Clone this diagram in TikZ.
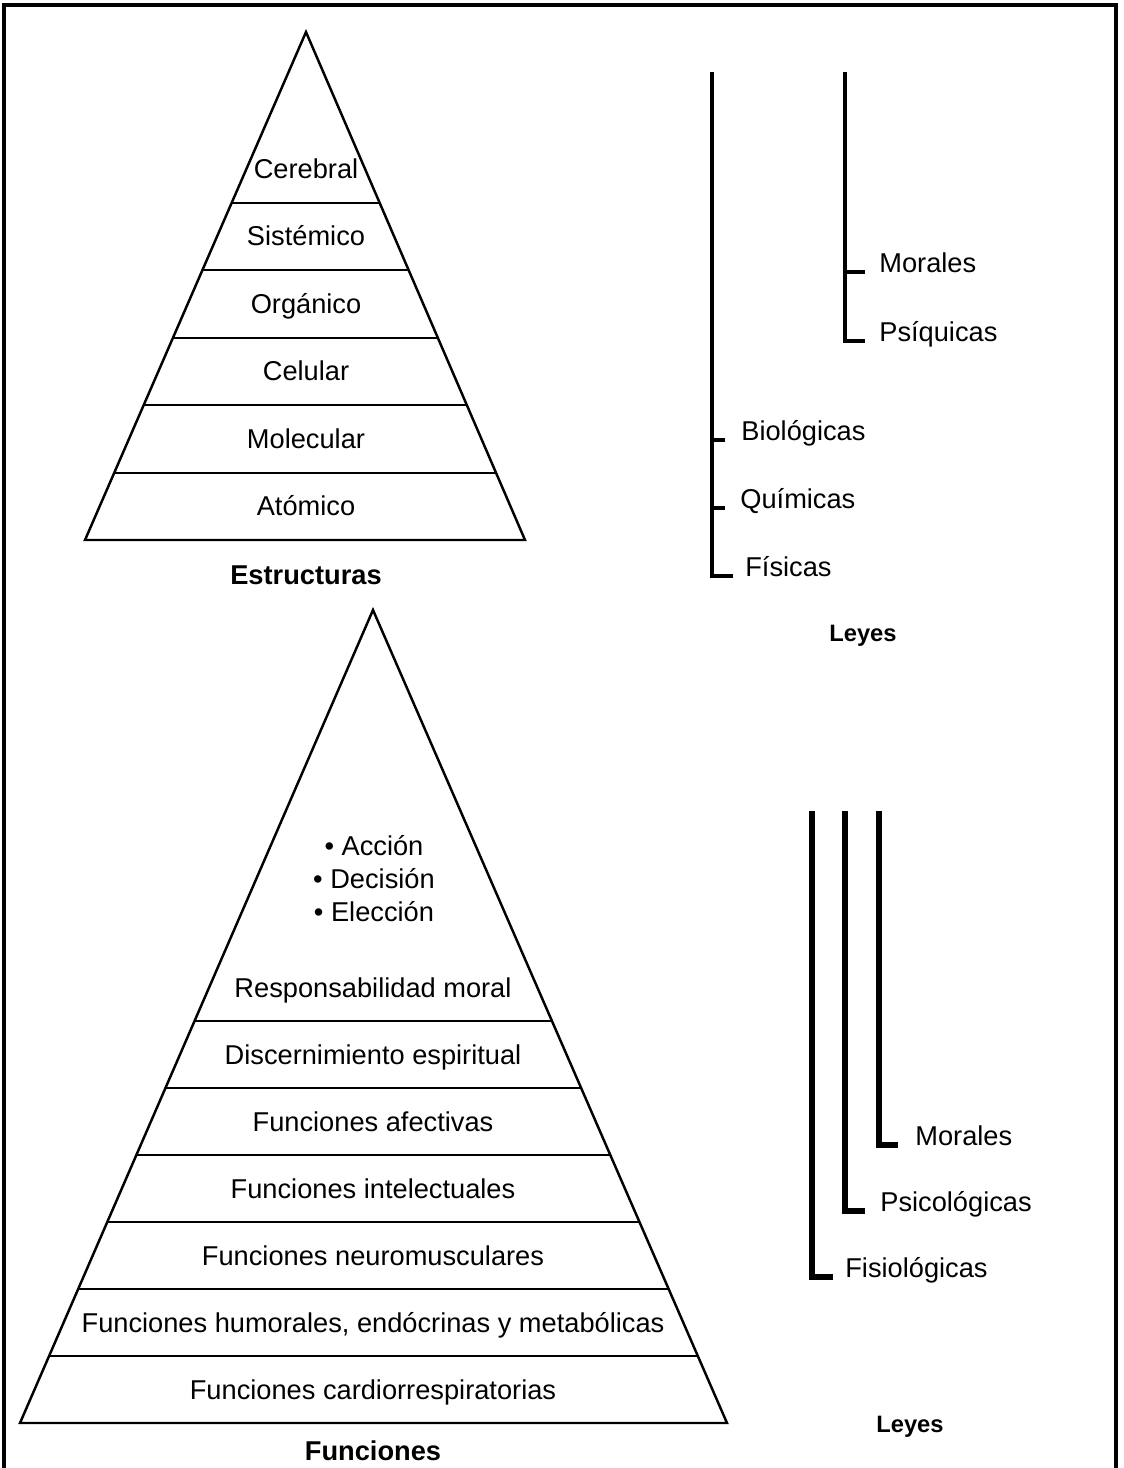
\documentclass[tikz,border=0pt]{standalone}
\usepackage{fontspec}
\setmainfont{Liberation Sans}
\usetikzlibrary{calc}

\begin{document}
\begin{tikzpicture}[
    x=0.02cm, y=-0.02cm,                    % 1 unidad = 1 px de la imagen
    every node/.style={inner sep=0pt, font=\fontsize{15.5}{18}\selectfont},
    capa/.style={anchor=base},
    titulo/.style={anchor=base, font=\fontsize{15.5}{18}\selectfont\bfseries},
    leyes/.style={anchor=base, font=\fontsize{13.5}{16}\selectfont\bfseries},
    ley/.style={anchor=base west},
    lado/.style={line width=1.4pt, line join=miter},
    franja/.style={line width=1.1pt},
    barra/.style={line width=2.3pt},
    barragruesa/.style={line width=3pt}
]
\useasboundingbox (0,0) rectangle (1123,1468);
% marco
\draw[line width=2pt] (4,1468) -- (4,5) -- (1116,5) -- (1116,1468);

% piramide de estructuras
\coordinate (ea) at (306,32);
\coordinate (el) at (85,540);
\coordinate (er) at (525,540);
\draw[lado] (el) -- (ea) -- (er) -- cycle;
\foreach \y in {203,270.4,337.8,405.2,472.6}{
    \pgfmathsetmacro\t{(\y-32)/508}
    \draw[franja] ($(ea)!\t!(el)$) -- ($(ea)!\t!(er)$);
}
\foreach \lab [count=\i from 0] in {Cerebral,Sistémico,Orgánico,Celular,Molecular,Atómico}
    \node[capa] (e\i) at (306,178.5+67.4*\i) {\lab};
\node[titulo] (estructuras) at (306,584) {Estructuras};

% leyes de las estructuras
\coordinate (b1) at (712,72);
\coordinate (b2) at (845,72);
\node[ley] (morales1) at (879,272) {Morales};
\node[ley] (psiquicas) at (879,341) {Psíquicas};
\node[ley] (biologicas) at (741,440) {Biológicas};
\node[ley] (quimicas) at (740,508) {Químicas};
\node[ley] (fisicas) at (745,576) {Físicas};
\draw[barra] (b1) |- ($(fisicas.base west)+(-12,0)$);
\draw[barra] (b1 |- biologicas.base) -- ++(13,0);
\draw[barra] (b1 |- quimicas.base) -- ++(13,0);
\draw[barra] (b2) |- ($(psiquicas.base west)+(-14,0)$);
\draw[barra] (b2 |- morales1.base) -- ++(20,0);
\node[leyes] (leyes1) at (863,641.5) {Leyes};

% piramide de funciones
\coordinate (fa) at (373,610);
\coordinate (fl) at (20,1423);
\coordinate (fr) at (727,1423);
\draw[lado] (fl) -- (fa) -- (fr) -- cycle;
\foreach \y in {1021,1088,1155,1222,1289,1356}{
    \pgfmathsetmacro\t{(\y-610)/813}
    \draw[franja] ($(fa)!\t!(fl)$) -- ($(fa)!\t!(fr)$);
}
\node[capa] (accion) at (374,855.5) {• Acción};
\node[capa] (decision) at (374,888.5) {• Decisión};
\node[capa] (eleccion) at (374,921.5) {• Elección};
\foreach \lab [count=\i from 0] in {Responsabilidad moral,Discernimiento espiritual,Funciones afectivas,Funciones intelectuales,Funciones neuromusculares,{Funciones humorales, endócrinas y metabólicas},Funciones cardiorrespiratorias}
    \node[capa] (f\i) at (373,997+67*\i) {\lab};
\node[titulo] (funciones) at (373,1460) {Funciones};

% leyes de las funciones
\coordinate (c1) at (812,811);
\coordinate (c2) at (845,811);
\coordinate (c3) at (879,811);
\node[ley] (morales2) at (915,1145) {Morales};
\node[ley] (psicologicas) at (880,1211) {Psicológicas};
\node[ley] (fisiologicas) at (845,1277) {Fisiológicas};
\draw[barragruesa] (c1) |- ($(fisiologicas.base west)+(-12,0)$);
\draw[barragruesa] (c2) |- ($(psicologicas.base west)+(-15,0)$);
\draw[barragruesa] (c3) |- ($(morales2.base west)+(-17,0)$);
\node[leyes] (leyes2) at (910,1432.5) {Leyes};
\end{tikzpicture}
\end{document}
